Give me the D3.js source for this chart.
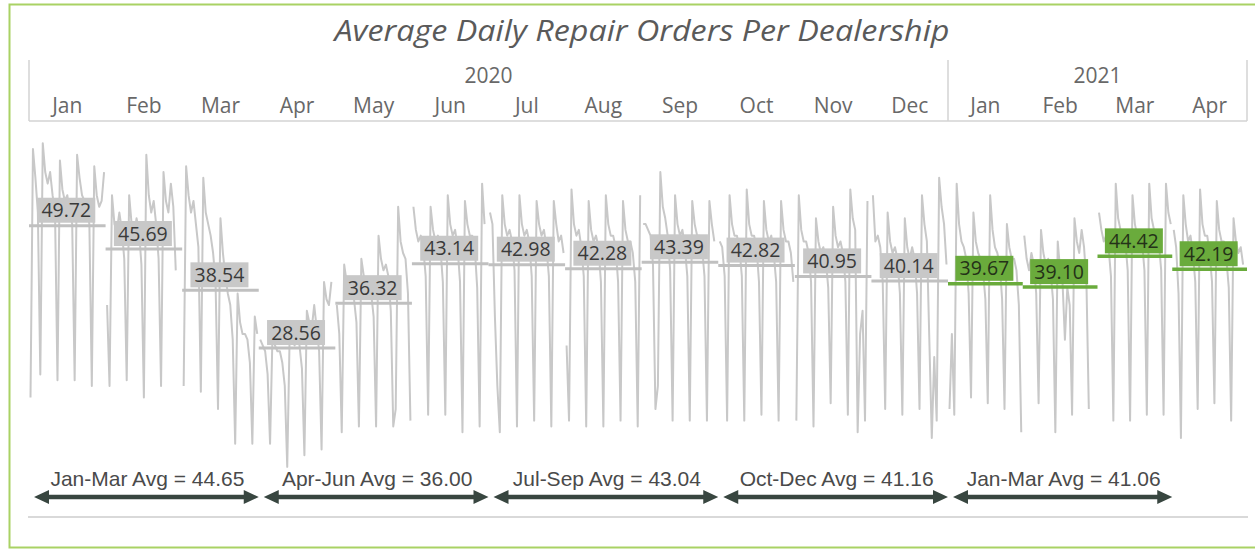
<!DOCTYPE html>
<html>
<head>
<meta charset="utf-8">
<script src="https://cdn.jsdelivr.net/npm/d3@7/dist/d3.min.js"></script>
<style>
  body { margin: 0; background: #fff; }
  svg { display: block; }
</style>
</head>
<body>
<div id="chart"></div>
<script>
const W = 1255, H = 551;

// month panels
const months = ["Jan","Feb","Mar","Apr","May","Jun","Jul","Aug","Sep","Oct","Nov","Dec","Jan","Feb","Mar","Apr"];
const years = ["2020","2021"];
const monthAvg = [49.72,45.69,38.54,28.56,36.32,43.14,42.98,42.28,43.39,42.82,40.95,40.14,39.67,39.10,44.42,42.19];

// daily repair orders, one array per month (day 1 .. end of month)
const jan20 = [20,63,58,52,24,64,59,57,59,55,52,23,61,56,54,55,52,50,23,62,58,55,54,52,50,22,60,55,53,54,59];
const feb20 = [36,22,55,50,49,52,49,44,23,55,50,48,51,49,43,20,62,55,52,54,50,44,22,59,54,52,57,53,42];
const mar20 = [22,60,55,52,54,50,46,21,58,52,50,48,45,40,18,51,45,41,38,36,30,12,38,33,31,31,30,26,12,34,31];
const apr20 = [30,29,28,24,12,31,29,28,28,26,22,8,31,30,29,31,29,25,10,35,33,32,36,32,28,11,40,37,36,40];
const may20 = [36,31,14,43,40,38,39,37,33,15,44,41,39,40,38,34,15,48,44,42,43,41,35,15,18,53,47,45,44,38,16];
const jun20 = [53,49,47,48,46,41,17,53,49,47,48,46,40,17,55,50,48,49,46,40,14,54,50,48,48,46,39,15,57,50];
const jul20 = [52,50,34,22,14,55,50,48,49,47,42,15,55,50,48,49,47,41,16,54,50,48,49,46,41,15,54,50,47,48,45];
const aug20 = [29,16,56,50,48,49,46,41,15,54,49,47,48,46,40,15,55,50,48,48,46,40,16,54,49,47,47,45,40,15,55];
const sep20 = [50,50,49,48,43,18,22,59,53,51,48,42,16,55,50,48,49,46,41,16,54,50,48,48,46,41,16,54,50,47];
const oct20 = [47,46,41,16,55,50,48,48,46,41,16,56,50,48,48,46,40,17,54,49,47,48,45,40,16,54,49,47,47,45,40];
const nov20 = [16,55,49,47,47,45,40,15,51,47,45,46,44,39,19,53,48,46,47,45,40,17,56,51,49,14,31,35,16,54];
const dec20 = [55,47,48,46,40,18,52,47,45,46,44,38,17,51,46,44,46,44,38,18,55,50,47,30,13,27,16,58,53,50,43];
const jan21 = [18,31,17,57,50,47,46,44,38,20,52,47,45,44,42,37,19,55,49,46,45,43,37,18,50,46,44,44,42,36,14];
const feb21 = [48,44,42,45,43,38,19,49,45,43,44,42,37,14,47,42,40,30,39,36,17,51,47,45,49,46,40,18];
const mar21 = [52,49,47,48,46,41,16,57,51,49,49,47,42,16,55,50,48,49,47,42,17,57,51,49,49,47,42,17,57,52,50];
const apr21 = [49,46,38,13,55,50,47,48,45,40,18,56,50,48,48,45,40,19,54,49,47,47,44,39,16,51,47,45,46,43];
const dailyOrders = [jan20,feb20,mar20,apr20,may20,jun20,jul20,aug20,sep20,oct20,nov20,dec20,jan21,feb21,mar21,apr21];

// quarter arrows at the bottom
const quarterNames = ["Jan-Mar","Apr-Jun","Jul-Sep","Oct-Dec","Jan-Mar"];
const quarterAvg = [44.65,36.00,43.04,41.16,41.06];
const quarterFirst = [0,3,6,9,12];
const quarterLast = [2,5,8,11,14];

const svg = d3.select("#chart").append("svg")
    .attr("width", W)
    .attr("height", H);

// green frame
svg.append("rect")
    .attr("x", 9.5).attr("y", 4.5)
    .attr("width", 1270).attr("height", 543)
    .attr("fill", "#fff")
    .attr("stroke", "#a9d264")
    .attr("stroke-width", 2);

svg.append("text")
    .attr("x", 642).attr("y", 41)
    .attr("text-anchor", "middle")
    .attr("font-family", "'Open Sans', sans-serif")
    .attr("font-style", "italic")
    .attr("font-size", 29)
    .attr("textLength", 615)
    .attr("lengthAdjust", "spacingAndGlyphs")
    .attr("fill", "#5a5a5a")
    .text("Average Daily Repair Orders Per Dealership");

// two years have slightly different panel widths in the original
const x2020 = d3.scaleBand().domain(d3.range(12)).range([29, 948]);
const x2021 = d3.scaleBand().domain(d3.range(12, 16)).range([948, 1247]);
const panelX = i => i < 12 ? x2020(i) : x2021(i);
const panelW = i => i < 12 ? x2020.bandwidth() : x2021.bandwidth();

const y = d3.scaleLinear().domain([0, 65]).range([513.1, 137.4]);

// header
const hdr = svg.append("g").attr("stroke", "#d3d3d3").attr("stroke-width", 1.5);
[29, 948, 1247].forEach(xx => {
  hdr.append("line").attr("x1", xx).attr("x2", xx).attr("y1", 60).attr("y2", 121);
});
hdr.append("line").attr("x1", 29).attr("x2", 1247).attr("y1", 121).attr("y2", 121);

svg.selectAll("text.month")
  .data(months)
  .enter().append("text")
    .attr("class", "month")
    .attr("x", (d, i) => panelX(i) + panelW(i) / 2)
    .attr("y", 113)
    .attr("text-anchor", "middle")
    .attr("font-family", "'Open Sans', sans-serif")
    .attr("font-size", 21)
    .attr("fill", "#686868")
    .text(d => d);

const yearRange = [[29, 948], [948, 1247]];
svg.selectAll("text.year")
  .data(years)
  .enter().append("text")
    .attr("class", "year")
    .attr("x", (d, i) => (yearRange[i][0] + yearRange[i][1]) / 2)
    .attr("y", 83)
    .attr("text-anchor", "middle")
    .attr("font-family", "'Open Sans', sans-serif")
    .attr("font-size", 21)
    .attr("fill", "#686868")
    .text(d => d);

// daily lines, one pane per month
const panes = svg.selectAll("g.pane")
  .data(dailyOrders)
  .enter().append("g")
    .attr("class", "pane");

panes.append("path")
    .attr("fill", "none")
    .attr("stroke", "#c8c8c8")
    .attr("stroke-width", 2)
    .attr("stroke-linejoin", "round")
    .attr("d", (vals, i) => {
      const xd = d3.scaleLinear().domain([1, 31]).range([panelX(i) + 1.5, panelX(i) + panelW(i) - 1.5]);
      return d3.line().x((v, k) => xd(k + 1)).y(v => y(v))(vals);
    });

// monthly average rule + label
const isGreen = i => i >= 12;
panes.append("line")
    .attr("x1", (d, i) => panelX(i))
    .attr("x2", (d, i) => panelX(i) + panelW(i))
    .attr("y1", (d, i) => y(monthAvg[i]))
    .attr("y2", (d, i) => y(monthAvg[i]))
    .attr("stroke", (d, i) => isGreen(i) ? "#6aab3c" : "#c0c0c0")
    .attr("stroke-width", (d, i) => isGreen(i) ? 3.5 : 3);

panes.append("rect")
    .attr("x", (d, i) => panelX(i) + panelW(i) / 2 - 30)
    .attr("y", (d, i) => y(monthAvg[i]) - 28)
    .attr("width", 58)
    .attr("height", 25)
    .attr("fill", (d, i) => isGreen(i) ? "#6aab3c" : "#c8c8c8");

panes.append("text")
    .attr("x", (d, i) => panelX(i) + panelW(i) / 2 - 1)
    .attr("y", (d, i) => y(monthAvg[i]) - 8.5)
    .attr("text-anchor", "middle")
    .attr("font-family", "'Open Sans', sans-serif")
    .attr("font-size", 19.5)
    .attr("fill", (d, i) => isGreen(i) ? "#243218" : "#3a3a3a")
    .text((d, i) => monthAvg[i].toFixed(2));

// quarter arrows
const arrowY = 497, ink = "#384640";
const q = svg.selectAll("g.quarter")
  .data(quarterAvg)
  .enter().append("g")
    .attr("class", "quarter");

const qx1 = i => panelX(quarterFirst[i]) + 5;
const qx2 = i => panelX(quarterLast[i]) + panelW(quarterLast[i]);

q.append("line")
    .attr("x1", (d, i) => qx1(i) + 10)
    .attr("x2", (d, i) => qx2(i) - 10)
    .attr("y1", arrowY).attr("y2", arrowY)
    .attr("stroke", ink)
    .attr("stroke-width", 4.5);
q.append("path")
    .attr("fill", ink)
    .attr("d", (d, i) => {
      const a = qx1(i), b = qx2(i);
      return `M${a},${arrowY}L${a + 15},${arrowY - 7}L${a + 15},${arrowY + 7}Z` +
             `M${b},${arrowY}L${b - 15},${arrowY - 7}L${b - 15},${arrowY + 7}Z`;
    });
q.append("text")
    .attr("x", (d, i) => (qx1(i) + qx2(i)) / 2 + 1)
    .attr("y", 486)
    .attr("text-anchor", "middle")
    .attr("font-family", "'Liberation Sans', Arial, sans-serif")
    .attr("font-size", 21)
    .attr("fill", "#4a4a4a")
    .text((d, i) => quarterNames[i] + " Avg = " + d.toFixed(2));

svg.append("line")
    .attr("x1", 28).attr("x2", 1248)
    .attr("y1", 517).attr("y2", 517)
    .attr("stroke", "#d9d9d9")
    .attr("stroke-width", 2);
</script>
</body>
</html>
